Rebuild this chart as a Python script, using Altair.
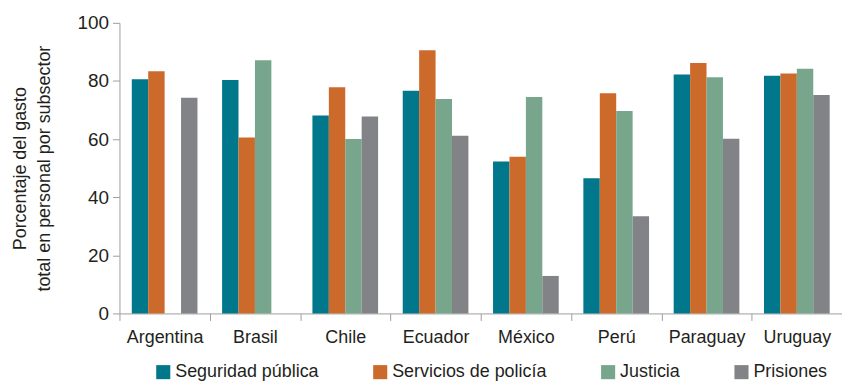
import altair as alt
import pandas as pd

countries = ["Argentina", "Brasil", "Chile", "Ecuador", "México", "Perú", "Paraguay", "Uruguay"]
series = ["Seguridad pública", "Servicios de policía", "Justicia", "Prisiones"]
seguridad = [80.6, 80.3, 68.1, 76.6, 52.3, 46.5, 82.2, 81.8]
policia = [83.3, 60.5, 77.8, 90.6, 53.9, 75.8, 86.2, 82.6]
justicia = [None, 87.1, 60.0, 73.8, 74.5, 69.7, 81.3, 84.2]
prisiones = [74.2, None, 67.8, 61.1, 12.9, 33.4, 60.1, 75.2]
colors = ["#00778a", "#cc6a2c", "#77a68d", "#828387"]

rows = []
for name, vals in zip(series, [seguridad, policia, justicia, prisiones]):
    for c, v in zip(countries, vals):
        if v is not None:
            rows.append({"pais": c, "subsector": name, "valor": v})
df = pd.DataFrame(rows)

FONT = "Liberation Sans"
TXT = "#231f20"
AX = "#9d9d9d"

chart = alt.Chart(df).mark_bar().encode(
    x=alt.X("pais:N", sort=countries,
            scale=alt.Scale(paddingInner=0, paddingOuter=0),
            axis=alt.Axis(title=None, labelAngle=0, tickBand="extent", tickExtra=False,
                          labelFont=FONT, labelFontSize=18, labelColor=TXT,
                          domainColor=AX, tickColor=AX, tickSize=7, labelPadding=8)),
    xOffset=alt.XOffset("subsector:N", sort=series,
                        scale=alt.Scale(domain=series, paddingInner=0, paddingOuter=0.75)),
    y=alt.Y("valor:Q", scale=alt.Scale(domain=[0, 100]),
            axis=alt.Axis(title=["Porcentaje del gasto", "total en personal por subsector"],
                          values=[0, 20, 40, 60, 80, 100], grid=False,
                          labelFont=FONT, labelFontSize=19, labelColor=TXT,
                          titleFont=FONT, titleFontSize=18, titleColor=TXT, titleFontWeight="normal",
                          titleLineHeight=24, titlePadding=24,
                          domainColor=AX, tickColor=AX, tickSize=7, labelPadding=4)),
    color=alt.Color("subsector:N", sort=series,
                    scale=alt.Scale(domain=series, range=colors),
                    legend=alt.Legend(title=None, orient="none", direction="horizontal",
                                      legendX=35, legendY=342,
                                      symbolType="square", symbolSize=200, symbolStrokeWidth=0,
                                      labelFont=FONT, labelFontSize=18, labelColor=TXT,
                                      labelOffset=3, columnPadding=52, labelLimit=300)),
).properties(
    width=726, height=292,
    autosize=alt.AutoSizeParams(type="none"),
    padding={"left": 112, "top": 14, "right": 0, "bottom": 68},
).configure_view(stroke=None)

chart.save("out.html", embed_options={"renderer": "svg", "actions": False})
